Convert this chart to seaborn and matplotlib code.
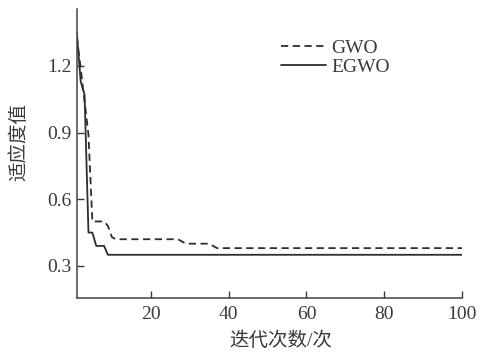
import pandas as pd
import seaborn as sns
import matplotlib.pyplot as plt

# convergence curves (iteration where the value changes)
gwo_iter = [1, 2, 3, 4, 5, 8, 9, 10, 11, 27, 29, 35, 37, 100]
gwo_fit = [1.33, 1.19, 1.04, 0.89, 0.50, 0.50, 0.48, 0.43, 0.42, 0.42, 0.40, 0.40, 0.38, 0.38]
egwo_iter = [1, 2, 3, 4, 5, 6, 8, 9, 100]
egwo_fit = [1.35, 1.13, 1.07, 0.45, 0.45, 0.39, 0.39, 0.35, 0.35]

x_ticks = [20, 40, 60, 80, 100]
y_ticks = [0.3, 0.6, 0.9, 1.2]

df = pd.concat([
    pd.DataFrame({"iter": gwo_iter, "fit": gwo_fit, "algo": "GWO"}),
    pd.DataFrame({"iter": egwo_iter, "fit": egwo_fit, "algo": "EGWO"}),
])

sns.set_theme(style="ticks")
plt.rcParams["font.family"] = ["Liberation Serif", "Noto Sans CJK SC"]
text_c = "#3a3a3a"

fig = plt.figure(figsize=(4.86, 3.52), dpi=100)
ax = fig.add_axes([0.158, 0.153, 0.793, 0.821])

sns.lineplot(data=df, x="iter", y="fit", hue="algo", style="algo",
             palette={"GWO": "#2e2e2e", "EGWO": "#2e2e2e"},
             dashes={"GWO": (4, 2.5), "EGWO": ""}, linewidth=1.3,
             sort=False, ax=ax)

ax.set_xlim(1, 100)
ax.set_ylim(0.155, 1.455)
ax.set_xticks(x_ticks)
ax.set_yticks(y_ticks)
ax.set_yticklabels([f"{v:.1f}" for v in y_ticks])
ax.tick_params(direction="in", length=5, width=1, colors=text_c, labelsize=14)
ax.tick_params(axis="x", pad=6)
for side in ["top", "right"]:
    ax.spines[side].set_visible(False)
for side in ["left", "bottom"]:
    ax.spines[side].set_color("#444444")
    ax.spines[side].set_linewidth(1.1)

ax.set_xlabel("迭代次数/次", fontsize=14, color=text_c)
ax.xaxis.set_label_coords(0.53, -0.115)
ax.set_ylabel("适应度值", fontsize=14, color=text_c)
ax.yaxis.set_label_coords(-0.125, 0.54)

leg = ax.legend(loc="upper left", bbox_to_anchor=(0.53, 0.895), frameon=False,
                fontsize=14, handlelength=2.3, handletextpad=0.3,
                labelspacing=0.05, borderpad=0, borderaxespad=0)
for t in leg.get_texts():
    t.set_color(text_c)

fig.savefig("out.png", dpi=100)
